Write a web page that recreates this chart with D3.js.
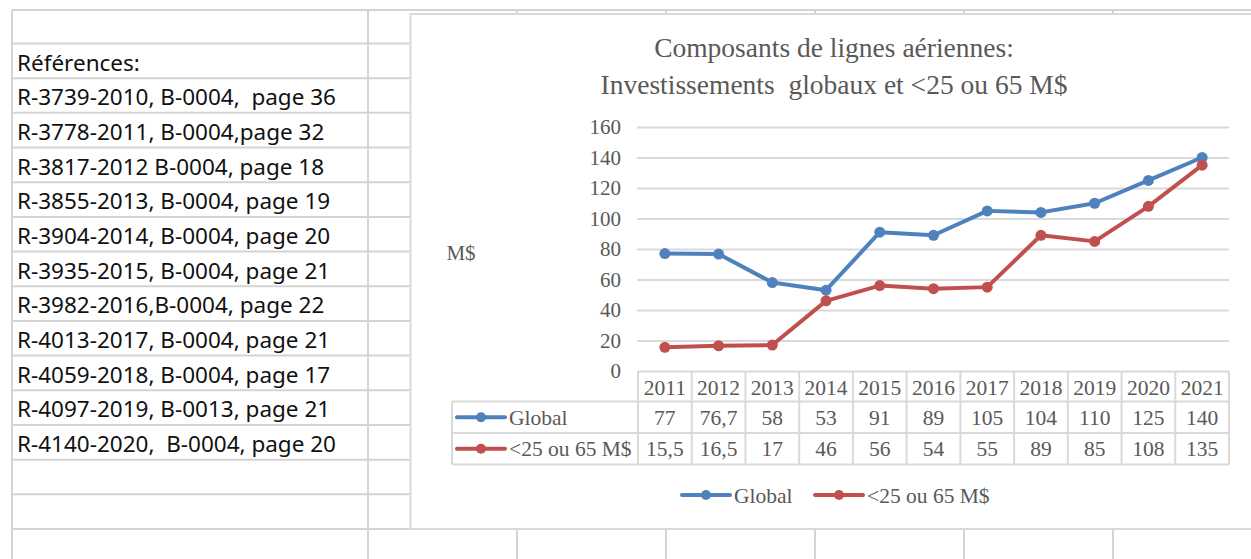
<!DOCTYPE html>
<html>
<head>
<meta charset="utf-8">
<script src="https://cdn.jsdelivr.net/npm/d3@7"></script>
<style>
  body { margin: 0; background: #fff; }
  text { white-space: pre; }
</style>
</head>
<body>
<svg id="chart" width="1251" height="559"></svg>
<script>
// values read from the sheet
const years = ["2011", "2012", "2013", "2014", "2015", "2016", "2017", "2018", "2019", "2020", "2021"];
const globalValues = [77, 76.7, 58, 53, 91, 89, 105, 104, 110, 125, 140];
const smallValues = [15.5, 16.5, 17, 46, 56, 54, 55, 89, 85, 108, 135];
const seriesNames = ["Global", "<25 ou 65 M$"];
const yTicks = [0, 20, 40, 60, 80, 100, 120, 140, 160];
const titleLines = ["Composants de lignes aériennes:", "Investissements  globaux et <25 ou 65 M$"];
const yTitle = "M$";
const references = [
  "Références:",
  "R-3739-2010, B-0004,  page 36",
  "R-3778-2011, B-0004,page 32",
  "R-3817-2012 B-0004, page 18",
  "R-3855-2013, B-0004, page 19",
  "R-3904-2014, B-0004, page 20",
  "R-3935-2015, B-0004, page 21",
  "R-3982-2016,B-0004, page 22",
  "R-4013-2017, B-0004, page 21",
  "R-4059-2018, B-0004, page 17",
  "R-4097-2019, B-0013, page 21",
  "R-4140-2020,  B-0004, page 20"
];

const colors = { global: "#4f81bd", small: "#c0504d" };
const serif = "'Liberation Serif', 'Times New Roman', serif";
const sans = "'Noto Sans', 'Open Sans', sans-serif";
const gridGray = "#d4d4d4";
const textGray = "#595959";

const svg = d3.select("#chart");

// spreadsheet background grid
const rowTop = 43.5, rowH = 34.68;
const rowYs = d3.range(15).map(i => rowTop + i * rowH);
const sheetCols = [12, 368, 517, 666, 815, 964, 1113];

const sheet = svg.append("g").attr("stroke", gridGray).attr("stroke-width", 2);
sheet.append("line").attr("x1", 12).attr("x2", 1251).attr("y1", 10).attr("y2", 10);
sheet.selectAll("line.row").data(rowYs).enter().append("line")
  .attr("class", "row")
  .attr("x1", 12).attr("x2", (d, i) => i == rowYs.length - 1 ? 1251 : 411)
  .attr("y1", d => d).attr("y2", d => d);
sheet.selectAll("line.col").data(sheetCols).enter().append("line")
  .attr("class", "col")
  .attr("x1", d => d).attr("x2", d => d)
  .attr("y1", 10).attr("y2", 559);

svg.append("g").selectAll("text").data(references).enter().append("text")
  .attr("x", 17)
  .attr("y", (d, i) => rowYs[i] + 27)
  .style("font-family", sans)
  .style("font-size", "22.5px")
  .style("fill", "#111")
  .text(d => d);

// chart area
svg.append("rect")
  .attr("x", 410.5).attr("y", 14)
  .attr("width", 900).attr("height", 515)
  .attr("fill", "#fff")
  .attr("stroke", "#d9d9d9")
  .attr("stroke-width", 2);

svg.append("g").selectAll("text").data(titleLines).enter().append("text")
  .attr("x", 834)
  .attr("y", (d, i) => 57 + i * 37)
  .attr("text-anchor", "middle")
  .style("font-family", serif)
  .style("font-size", "27.5px")
  .style("fill", textGray)
  .text(d => d);

let x = d3.scaleBand().domain(years).range([638, 1229]);
let y = d3.scaleLinear().domain([0, 160]).range([371, 127]);
const cx = d => x(d) + x.bandwidth() / 2;

let yAxis = d3.axisLeft(y)
  .tickValues(yTicks)
  .tickSize(-(1229 - 637))
  .tickPadding(16)
  .tickFormat(d => d);

const gy = svg.append("g")
  .attr("transform", "translate(637, 0)")
  .call(yAxis);
gy.select(".domain").remove();
gy.selectAll(".tick line")
  .attr("stroke", "#d9d9d9")
  .attr("stroke-width", 2)
  .filter(d => d == 0).remove();
gy.selectAll(".tick text")
  .style("font-family", serif)
  .style("font-size", "21px")
  .style("fill", textGray);

svg.append("text")
  .attr("x", 461).attr("y", 260)
  .attr("text-anchor", "middle")
  .style("font-family", serif)
  .style("font-size", "21px")
  .style("fill", textGray)
  .text(yTitle);

// lines and markers
const series = [
  { name: seriesNames[0], values: globalValues, color: colors.global },
  { name: seriesNames[1], values: smallValues, color: colors.small }
];

let line = d3.line()
  .x((d, i) => cx(years[i]))
  .y(d => y(d));

series.forEach(s => {
  svg.append("path")
    .attr("d", line(s.values))
    .attr("fill", "none")
    .attr("stroke", s.color)
    .attr("stroke-width", 4)
    .attr("stroke-linejoin", "round");
  svg.append("g").selectAll("circle").data(s.values).enter().append("circle")
    .attr("cx", (d, i) => cx(years[i]))
    .attr("cy", d => y(d))
    .attr("r", 5.5)
    .attr("fill", s.color);
});

// data table under the plot
const tableTop = 371.5, headH = 30, dataH = 31.5;
const tableLeft = 452, tableRight = 1229;
const table = svg.append("g");
const cellFont = sel => sel.style("font-family", serif).style("font-size", "21.5px").style("fill", textGray);

table.append("g").selectAll("text").data(years).enter().append("text")
  .attr("x", d => cx(d))
  .attr("y", tableTop + 23)
  .attr("text-anchor", "middle")
  .call(cellFont)
  .text(d => d);

series.forEach((s, r) => {
  const top = tableTop + headH + r * dataH;
  const mid = top + dataH / 2;
  table.append("line")
    .attr("x1", 457).attr("x2", 505).attr("y1", mid).attr("y2", mid)
    .attr("stroke", s.color).attr("stroke-width", 4).attr("stroke-linecap", "round");
  table.append("circle").attr("cx", 481).attr("cy", mid).attr("r", 5).attr("fill", s.color);
  table.append("text").attr("x", 509).attr("y", mid + 7.5).call(cellFont).text(s.name);
  table.append("g").selectAll("text").data(s.values).enter().append("text")
    .attr("x", (d, i) => cx(years[i]))
    .attr("y", mid + 7.5)
    .attr("text-anchor", "middle")
    .call(cellFont)
    .text(d => String(d).replace(".", ","));
});

// table borders
const border = table.append("g").attr("stroke", "#d9d9d9").attr("stroke-width", 2).attr("fill", "none");
const yB = [tableTop, tableTop + headH, tableTop + headH + dataH, tableTop + headH + 2 * dataH];
border.append("line").attr("x1", x(years[0])).attr("x2", tableRight).attr("y1", yB[0]).attr("y2", yB[0]);
yB.slice(1).forEach(v => border.append("line").attr("x1", tableLeft).attr("x2", tableRight).attr("y1", v).attr("y2", v));
border.append("line").attr("x1", tableLeft).attr("x2", tableLeft).attr("y1", yB[1]).attr("y2", yB[3]);
years.concat(["end"]).forEach((d, i) => {
  const xv = d == "end" ? tableRight : x(d);
  border.append("line").attr("x1", xv).attr("x2", xv).attr("y1", yB[0]).attr("y2", yB[3]);
});

// legend
const legendX = [682, 815];
series.forEach((s, i) => {
  const g = svg.append("g").attr("transform", `translate(${legendX[i]}, 495)`);
  g.append("line").attr("x1", 0).attr("x2", 48)
    .attr("stroke", s.color).attr("stroke-width", 4).attr("stroke-linecap", "round");
  g.append("circle").attr("cx", 24).attr("r", 5).attr("fill", s.color);
  g.append("text").attr("x", 52).attr("y", 7.5).call(cellFont).text(s.name);
});
</script>
</body>
</html>
